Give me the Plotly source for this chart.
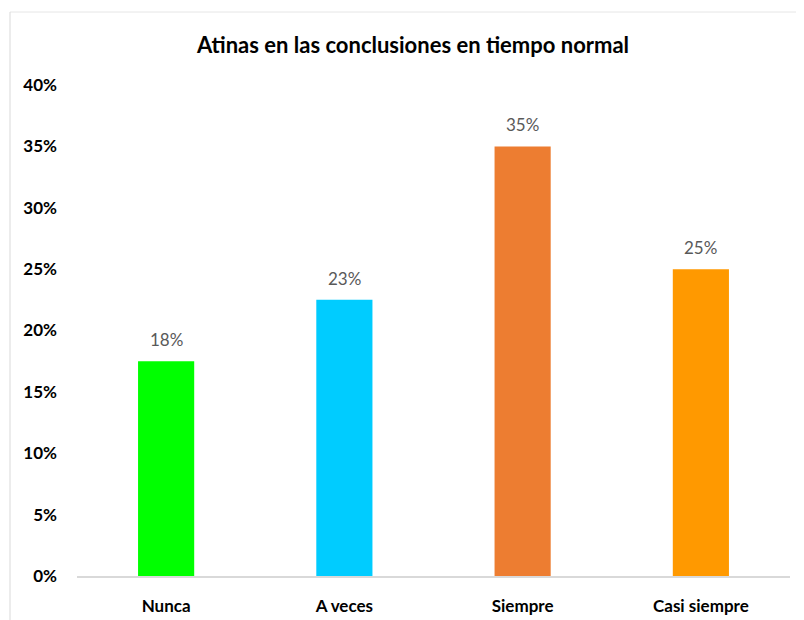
import plotly.graph_objects as go

categories = ["Nunca", "A veces", "Siempre", "Casi siempre"]
values = [0.175, 0.225, 0.35, 0.25]
value_labels = ["18%", "23%", "35%", "25%"]
bar_colors = ["#00FF00", "#00CCFF", "#ED7D31", "#FF9900"]
tick_vals = [0, 0.05, 0.10, 0.15, 0.20, 0.25, 0.30, 0.35, 0.40]
tick_text = ["0%", "5%", "10%", "15%", "20%", "25%", "30%", "35%", "40%"]

FONT = "Lato, Carlito, Calibri, sans-serif"

# page has an 8px body margin; work in page pixels and convert
OFF = 8
W, H = 796, 612
L, R, T, B = 77 - OFF, 14, 85 - OFF, 44
pw = W - L - R
ph = H - T - B

def px_x(p):
    return (p - OFF - L) / pw

def px_y(p):
    return (H - B - (p - OFF)) / ph

fig = go.Figure(go.Bar(
    x=categories,
    y=values,
    marker=dict(color=bar_colors, line=dict(width=0)),
    width=0.315,
    hoverinfo="x+y",
))

for c, v, t in zip(categories, values, value_labels):
    fig.add_annotation(
        x=c, y=v, text=t, showarrow=False,
        yanchor="bottom", yshift=9,
        font=dict(family=FONT, size=17, color="#595959"),
    )

fig.update_layout(
    width=W, height=H,
    margin=dict(l=L, r=R, t=T, b=B, pad=0, autoexpand=False),
    paper_bgcolor="white",
    plot_bgcolor="white",
    showlegend=False,
    font=dict(family=FONT),
    title=dict(
        text="<b>Atinas en las conclusiones en tiempo normal</b>",
        font=dict(family=FONT, size=22, color="#000000"),
        x=px_x(413), xanchor="center", xref="paper",
        y=1 - (45 - OFF) / H, yanchor="middle", yref="container",
    ),
    xaxis=dict(
        automargin=False,
        showgrid=False,
        showline=True, linecolor="#D9D9D9", linewidth=1.5,
        ticks="",
        tickfont=dict(family=FONT, size=17, color="#000000", weight="bold"),
        ticklabelstandoff=14,
    ),
    yaxis=dict(
        automargin=False,
        range=[0, 0.40],
        tickvals=tick_vals,
        ticktext=tick_text,
        showgrid=False,
        zeroline=False,
        showline=False,
        ticks="",
        tickfont=dict(family=FONT, size=17, color="#000000", weight="bold"),
        ticklabelstandoff=19,
    ),
    shapes=[
        dict(type="line", xref="paper", yref="paper",
             x0=px_x(10), x1=px_x(812), y0=px_y(12), y1=px_y(12),
             line=dict(color="#E6E6E6", width=1)),
        dict(type="line", xref="paper", yref="paper",
             x0=px_x(10), x1=px_x(10), y0=px_y(12), y1=px_y(628),
             line=dict(color="#D9D9D9", width=1)),
    ],
)

fig.write_html("out.html")
